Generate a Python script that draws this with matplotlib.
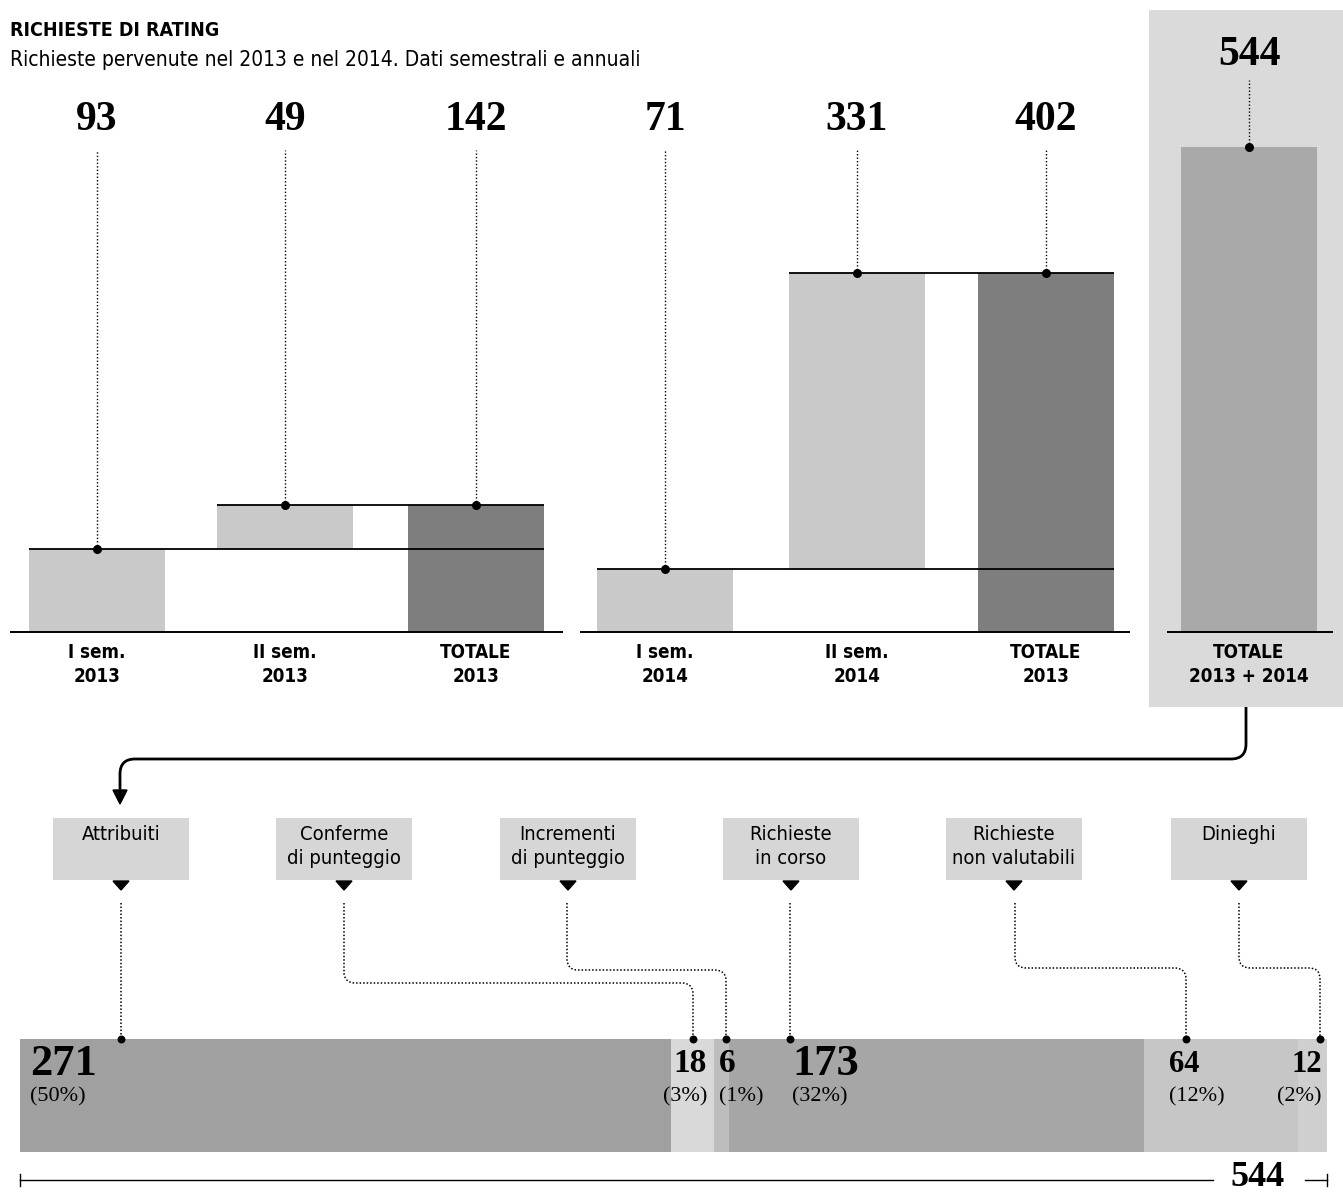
import matplotlib.pyplot as plt
import numpy as np
from matplotlib.patches import Rectangle, PathPatch, Polygon
from matplotlib.path import Path

# Richieste di rating: semestri 2013-2014 ed esiti
semestri = ['I sem.', 'II sem.', 'TOTALE', 'I sem.', 'II sem.', 'TOTALE']
anni = ['2013', '2013', '2013', '2014', '2014', '2013']
sem_2013 = [93, 49]
sem_2014 = [71, 331]
tot_2013 = 142
tot_2014 = 402
tot_all = 544

esiti = ['Attribuiti', 'Conferme\ndi punteggio', 'Incrementi\ndi punteggio',
         'Richieste\nin corso', 'Richieste\nnon valutabili', 'Dinieghi']
esiti_val = [271, 18, 6, 173, 64, 12]
esiti_pct = ['(50%)', '(3%)', '(1%)', '(32%)', '(12%)', '(2%)']

W, H = 1343, 1193
K = 0.892          # pixel per richiesta nel grafico in alto
BASE = 632         # riga di base (pixel dall'alto)

SANS = ['DejaVu Sans']
SERIF = ['Liberation Serif', 'DejaVu Serif']
LIGHT, DARK = '#c9c9c9', '#7e7e7e'
ST = 'condensed'

fig = plt.figure(figsize=(W / 100, H / 100), dpi=100)

# fondo: pannello del totale e riquadri
bg = fig.add_axes([0, 0, 1, 1], zorder=0)
bg.set_xlim(0, W)
bg.set_ylim(H, 0)
bg.axis('off')
bg.add_patch(Rectangle((1149, 10), W - 1149, 697, color='#dadada', lw=0))

# grafico a cascata in alto
ax = fig.add_axes([0, (H - BASE) / H, 1, BASE / H], zorder=1)
ax.set_xlim(0, W)
ax.set_ylim(0, BASE / K)
ax.axis('off')
ax.patch.set_visible(False)

bw = 136
xc = [97, 285, 476, 665, 857, 1046]
bottoms = [0, sem_2013[0], 0, 0, sem_2014[0], 0]
heights = [sem_2013[0], sem_2013[1], tot_2013, sem_2014[0], sem_2014[1], tot_2014]
colors = [LIGHT, LIGHT, DARK, LIGHT, LIGHT, DARK]
ax.bar(xc, heights, width=bw, bottom=bottoms, color=colors, lw=0)
ax.bar([1249], [tot_all], width=bw, color='#a9a9a9', lw=0)

# linee di livello
ax.hlines(sem_2013[0], xc[0] - bw / 2, xc[2] + bw / 2, color='black', lw=1.3)
ax.hlines(tot_2013, xc[1] - bw / 2, xc[2] + bw / 2, color='black', lw=1.3)
ax.hlines(sem_2014[0], xc[3] - bw / 2, xc[5] + bw / 2, color='black', lw=1.3)
ax.hlines(tot_2014, xc[4] - bw / 2, xc[5] + bw / 2, color='black', lw=1.3)
for x0, x1 in [(10, 563), (580, 1130), (1167, 1333)]:
    ax.hlines(0, x0, x1, color='black', lw=1.4, clip_on=False)

# etichette dei valori con linee di richiamo
tops = [b + h for b, h in zip(bottoms, heights)]
for x, t, h, i in zip(xc, tops, heights, range(6)):
    val = h if i not in (2, 5) else t
    ax.vlines(x, t, (BASE - 150) / K, color='black', lw=1, linestyles=(0, (1, 1.5)))
    ax.scatter([x], [t], s=30, color='black', zorder=5)
    ax.text(x, (BASE - 120) / K, str(val), ha='center', va='center',
            family=SERIF, fontweight='bold', fontsize=30)
ax.vlines(1249, tot_all, (BASE - 80) / K, color='black', lw=1, linestyles=(0, (1, 1.5)))
ax.scatter([1249], [tot_all], s=30, color='black', zorder=5)
ax.text(1249, (BASE - 55) / K, str(tot_all), ha='center', va='center',
        family=SERIF, fontweight='bold', fontsize=30)

# titolo
bg.text(10, 30, 'RICHIESTE DI RATING', ha='left', va='center',
        family=SANS, fontstretch=ST, fontweight='bold', fontsize=14)
bg.text(10, 60, 'Richieste pervenute nel 2013 e nel 2014. Dati semestrali e annuali',
        ha='left', va='center', family=SANS, fontstretch=ST, fontsize=15)

# etichette delle categorie
for x, s, a in zip(xc, semestri, anni):
    bg.text(x, 653, s, ha='center', va='center', family=SANS, fontstretch=ST,
            fontweight='bold', fontsize=13.5)
    bg.text(x, 677, a, ha='center', va='center', family=SANS, fontstretch=ST,
            fontweight='bold', fontsize=13.5)
bg.text(1249, 653, 'TOTALE', ha='center', va='center', family=SANS, fontstretch=ST,
        fontweight='bold', fontsize=13.5)
bg.text(1249, 677, '2013 + 2014', ha='center', va='center', family=SANS, fontstretch=ST,
        fontweight='bold', fontsize=13.5)


def rounded(pts, r):
    verts, codes = [pts[0]], [Path.MOVETO]
    for i in range(1, len(pts) - 1):
        p0, p1, p2 = (np.array(p, float) for p in pts[i - 1:i + 2])
        d1 = (p1 - p0) / np.linalg.norm(p1 - p0)
        d2 = (p2 - p1) / np.linalg.norm(p2 - p1)
        verts += [tuple(p1 - d1 * r), tuple(p1), tuple(p1 + d2 * r)]
        codes += [Path.LINETO, Path.CURVE3, Path.CURVE3]
    verts.append(pts[-1])
    codes.append(Path.LINETO)
    return Path(verts, codes)


# collegamento dal totale agli esiti
bg.add_patch(PathPatch(rounded([(1246, 707), (1246, 759), (120, 759), (120, 792)], 15),
                       fill=False, lw=2, color='black'))
bg.add_patch(Polygon([(113, 790), (127, 790), (120, 804)], closed=True, color='black'))

# riquadri degli esiti
box_c = [121, 344, 568, 791, 1014, 1239]
for c, lab in zip(box_c, esiti):
    bg.add_patch(Rectangle((c - 68, 818), 136, 62, color='#d6d6d6', lw=0))
    lines = lab.split('\n')
    for j, line in enumerate(lines):
        bg.text(c, 834 + 24 * j, line, ha='center', va='center', family=SANS,
                fontstretch=ST, fontsize=14.5)
    bg.add_patch(Polygon([(c - 8, 881), (c + 8, 881), (c, 890)], closed=True, color='black'))

# barra degli esiti in basso
L, R = 20, 1327
axb = fig.add_axes([L / W, (H - 1152) / H, (R - L) / W, 113 / H], zorder=2)
axb.set_xlim(0, tot_all)
axb.set_ylim(0, 1)
axb.axis('off')
lefts = np.concatenate([[0], np.cumsum(esiti_val)[:-1]])
seg_colors = ['#a0a0a0', '#d9d9d9', '#bdbdbd', '#a6a6a6', '#c6c6c6', '#cfcfcf']
axb.barh(0.5, esiti_val, left=lefts, height=1, color=seg_colors, lw=0)

# linee di richiamo puntinate verso la barra
ov = fig.add_axes([0, 0, 1, 1], zorder=3)
ov.set_xlim(0, W)
ov.set_ylim(H, 0)
ov.axis('off')
ov.patch.set_visible(False)
routes = [
    [(121, 903), (121, 1039)],
    [(344, 903), (344, 983), (693, 983), (693, 1039)],
    [(567, 903), (567, 970), (726, 970), (726, 1039)],
    [(790, 903), (790, 1039)],
    [(1015, 903), (1015, 968), (1186, 968), (1186, 1039)],
    [(1239, 903), (1239, 968), (1320, 968), (1320, 1039)],
]
for pts in routes:
    ov.add_patch(PathPatch(rounded(pts, 11), fill=False, lw=1.1, color='black',
                           linestyle=(0, (1, 1.3))))
    ov.scatter([pts[-1][0]], [pts[-1][1]], s=22, color='black', zorder=5)

# valori e percentuali
lab_pos = [(30, 'left', 32), (707, 'right', 24), (719, 'left', 24),
           (792, 'left', 32), (1169, 'left', 22), (1322, 'right', 22)]
for (x, ha, fs), v, p in zip(lab_pos, esiti_val, esiti_pct):
    ov.text(x, 1064, str(v), ha=ha, va='center', family=SERIF, fontweight='bold', fontsize=fs)
    ov.text(x, 1097, p, ha=ha, va='center', family=SERIF, fontsize=16)

# scala del totale
ov.plot([L, 1213], [1180, 1180], color='black', lw=1)
ov.plot([1305, R], [1180, 1180], color='black', lw=1)
ov.plot([L, L], [1174, 1186], color='black', lw=1)
ov.plot([R, R], [1174, 1186], color='black', lw=1)
ov.text(1257, 1178, str(tot_all), ha='center', va='center', family=SERIF,
        fontweight='bold', fontsize=26)

plt.savefig('out.png', dpi=100)
